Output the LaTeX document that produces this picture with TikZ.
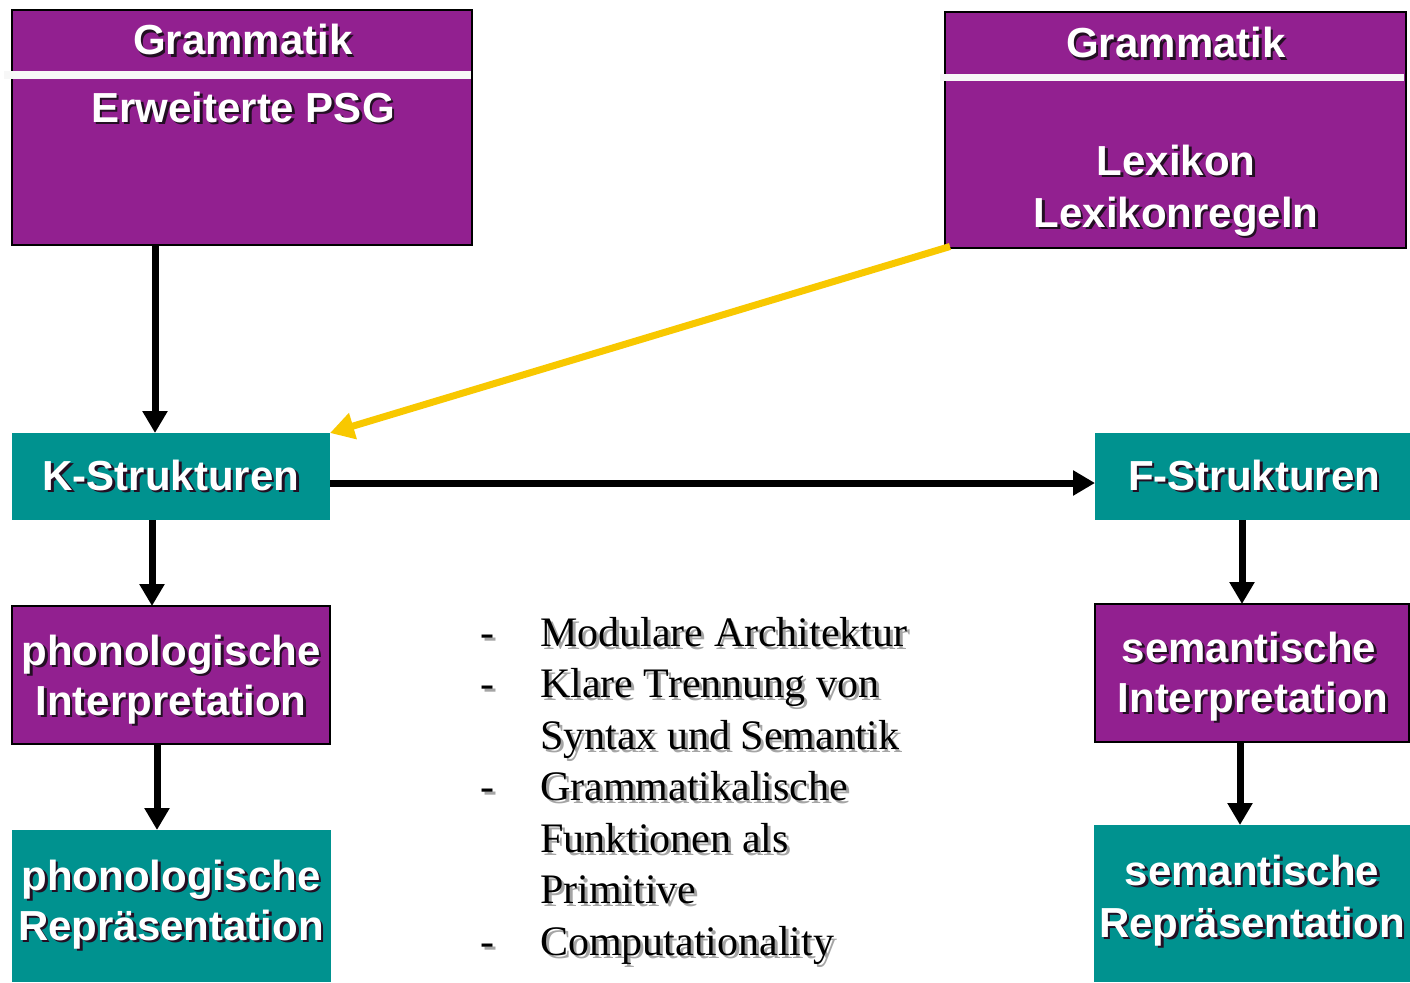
\documentclass[tikz,border=0pt]{standalone}
\usepackage{fontspec}
\setmainfont{Liberation Serif}
\newfontfamily\boxfont{Liberation Sans}
\usetikzlibrary{arrows.meta,calc}

\definecolor{gramPurple}{RGB}{146,32,144}
\definecolor{strucTeal}{RGB}{0,146,143}
\definecolor{lexYellow}{RGB}{248,200,0}
\definecolor{labelShadow}{RGB}{35,15,35}
\definecolor{noteShadow}{RGB}{165,165,165}

% text with a drop shadow underneath: shadow colour, offset, text
\newcommand\dropshadowed[3]{%
  \leavevmode\rlap{\kern#2\raisebox{-#2}{\textcolor{#1}{#3}}}#3}

\tikzset{
  purplebox/.style={fill=gramPurple, draw=black, line width=2pt, inner sep=0pt, outer sep=0pt},
  tealbox/.style={fill=strucTeal, inner sep=0pt, outer sep=0pt},
  conn/.style={line width=7pt, -{Triangle[length=22pt,width=24pt]}},
  lexconn/.style={conn, draw=lexYellow, -{Triangle[length=24pt,width=26pt,fill=lexYellow]}},
  btext/.style={anchor=base, text=white, inner sep=0pt,
    font=\boxfont\bfseries\fontsize{42}{50}\selectfont},
  ntext/.style={anchor=base west, text=black, inner sep=0pt,
    font=\fontsize{42}{52}\selectfont},
  divider/.style={draw=white!97!black, line width=7.5pt},
}

% white box label: name, x, baseline y, text
\newcommand\boxtext[4]{%
  \node[btext] (#1) at (#2,#3) {\dropshadowed{labelShadow}{2.5pt}{#4}};}
% serif note line: name, x, baseline y, text
\newcommand\noteline[4]{%
  \node[ntext] (#1) at (#2,#3) {\dropshadowed{noteShadow}{3pt}{#4}};}

\begin{document}
\begin{tikzpicture}[x=1pt, y=-1pt]
  \fill[white] (0,0) rectangle (1410,982);
  \useasboundingbox (0,0) rectangle (1410,982);

  % grammar boxes
  \node[purplebox, minimum width=460, minimum height=235] (g1) at (242,127.5) {};
  \node[purplebox, minimum width=461, minimum height=235] (g2) at (1175.5,130) {};
  \draw[divider] (4,75) -- (471,75);
  \draw[divider] (940,77.5) -- (1404,77.5);

  % structure boxes
  \node[tealbox, minimum width=318, minimum height=87] (k) at (171,476.5) {};
  \node[tealbox, minimum width=315, minimum height=87] (f) at (1252.5,476.5) {};

  % interpretation boxes
  \node[purplebox, minimum width=318, minimum height=138] (pi) at (171,675) {};
  \node[purplebox, minimum width=314, minimum height=138] (si) at (1252,673) {};

  % representation boxes
  \node[tealbox, minimum width=319, minimum height=152] (pr) at (171.5,906) {};
  \node[tealbox, minimum width=316, minimum height=157] (sr) at (1252,903.5) {};

  % connectors
  \coordinate (c1) at (155,0);
  \coordinate (c2) at (152,0);
  \coordinate (c3) at (157,0);
  \coordinate (c4) at (1242,0);
  \coordinate (c5) at (1240,0);
  \draw[conn] (c1 |- g1.south) -- (c1 |- k.north);
  \draw[conn] (c2 |- k.south) -- (c2 |- pi.north);
  \draw[conn] (c3 |- pi.south) -- (c3 |- pr.north);
  \draw[conn] (c4 |- f.south) -- (c4 |- si.north);
  \draw[conn] (c5 |- si.south) -- (c5 |- sr.north);
  \draw[conn] ([yshift=-6.5pt]k.east) -- ([yshift=-6.5pt]f.west);
  \draw[lexconn] ([shift={(5pt,1pt)}]g2.south west) -- (k.north east);

  % box labels
  \boxtext{t1a}{243}{55}{Grammatik}
  \boxtext{t1b}{243}{122}{Erweiterte PSG}
  \boxtext{t2a}{1176}{58}{Grammatik}
  \boxtext{t2b}{1176}{175}{Lexikon}
  \boxtext{t2c}{1176}{227}{Lexikonregeln}
  \boxtext{tk}{171}{490}{K-Strukturen}
  \boxtext{tf}{1254}{490}{F-Strukturen}
  \boxtext{tpi1}{171}{665}{phonologische}
  \boxtext{tpi2}{171}{715}{Interpretation}
  \boxtext{tpr1}{171}{890}{phonologische}
  \boxtext{tpr2}{171}{940}{Repräsentation}
  \boxtext{tsi1}{1249}{662}{semantische}
  \boxtext{tsi2}{1253}{712}{Interpretation}
  \boxtext{tsr1}{1252}{885}{semantische}
  \boxtext{tsr2}{1252}{937}{Repräsentation}

  % notes
  \noteline{d1}{480}{646}{-}
  \noteline{n1}{540}{646}{Modulare Architektur}
  \noteline{d2}{480}{697.5}{-}
  \noteline{n2}{540}{697.5}{Klare Trennung von}
  \noteline{n3}{540}{749}{Syntax und Semantik}
  \noteline{d3}{480}{800.5}{-}
  \noteline{n4}{540}{800.5}{Grammatikalische}
  \noteline{n5}{540}{852}{Funktionen als}
  \noteline{n6}{540}{903.5}{Primitive}
  \noteline{d4}{480}{955}{-}
  \noteline{n7}{540}{955}{Computationality}
\end{tikzpicture}
\end{document}
